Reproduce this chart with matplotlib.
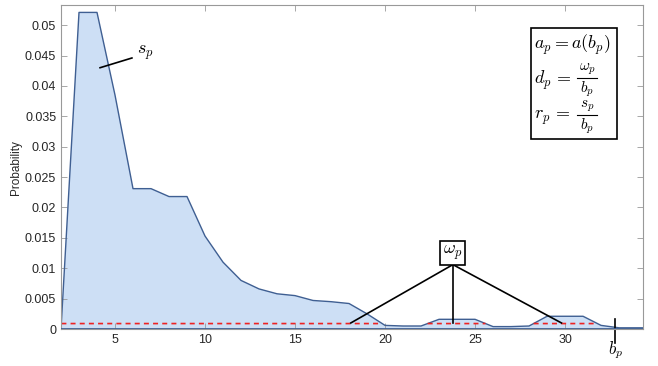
import numpy as np
import matplotlib.pyplot as plt
from matplotlib.patches import Rectangle

plt.rcParams['mathtext.fontset'] = 'cm'
plt.rcParams['font.family'] = ['Liberation Sans', 'DejaVu Sans']

# length distribution
lengths = np.arange(2, 36)
prob = [0.0, 0.0521, 0.0521, 0.0385, 0.0231, 0.0231, 0.0218, 0.0218, 0.0153,
        0.0110, 0.0080, 0.0066, 0.0058, 0.0055, 0.0047, 0.0045, 0.0042, 0.0025,
        0.0006, 0.0005, 0.0005, 0.0016, 0.0016, 0.0016, 0.0004, 0.0004, 0.0005,
        0.0021, 0.0021, 0.0021, 0.0006, 0.0002, 0.0002, 0.0002]
threshold = 0.0009
b_p = 32.8

fig = plt.figure(figsize=(6.58, 3.66), dpi=100)
ax = fig.add_axes([0.0927, 0.101, 0.8845, 0.885])

ax.fill_between(lengths, 0, prob, facecolor='#cddff5', edgecolor='none')
ax.plot(lengths, prob, color='#3f5f92', lw=1.0)
ax.plot([2, 2], [0, prob[0]], color='#3f5f92', lw=1.0)
ax.axhline(0, color='#3f5f92', lw=2.0, zorder=3)

# red threshold line, only shown where the curve is above it
xf = np.linspace(2, 35, 3000)
yf = np.interp(xf, lengths, prob)
ax.plot(xf, np.where(yf > threshold, threshold, np.nan), color='#ee2222',
        ls=(0, (3, 2.5)), lw=1.2)

ax.set_xlim(2, 34.33)
ax.set_ylim(0, 0.0533)
ax.set_xticks([5, 10, 15, 20, 25, 30])
ax.set_yticks(np.arange(0, 0.0501, 0.005))
ax.set_yticklabels(['0', '0.005', '0.01', '0.015', '0.02', '0.025', '0.03',
                    '0.035', '0.04', '0.045', '0.05'])
ax.tick_params(direction='in', top=True, right=True, labelsize=9,
               length=4, width=0.6, colors='#999999', labelcolor='#262626')
for sp in ax.spines.values():
    sp.set_color('#999999')
    sp.set_linewidth(0.8)
ax.set_ylabel('Probability', fontsize=8.5, color='#262626', labelpad=2)

# s_p annotation
ax.plot([4.17, 5.94], [0.0430, 0.0446], color='black', lw=1.2)
ax.text(6.2, 0.0455, r'$s_p$', fontsize=13, va='center', ha='left')

# omega_p annotation
top_pt = (23.77, 0.0106)
for xe in [18.1, 23.77, 29.8]:
    ax.plot([top_pt[0], xe], [top_pt[1], 0.001], color='black', lw=1.2)
ax.text(23.75, 0.01255, r'$\omega_p$', fontsize=13, ha='center', va='center',
        bbox=dict(boxstyle='square,pad=0.15', facecolor='white', edgecolor='black', lw=1.2))

# b_p marker
ax.plot([b_p, b_p], [0.0017, -0.0023], color='black', lw=1.2, clip_on=False)
ax.text(b_p, -0.0034, r'$b_p$', fontsize=12, ha='center', va='center')

# formulas box (fractions built by hand to keep them compact)
ta = ax.transAxes
ax.add_patch(Rectangle((0.808, 0.586), 0.147, 0.343, transform=ta,
                       facecolor='white', edgecolor='black', lw=1.2, zorder=4))
ax.text(0.813, 0.877, r'$a_p = a(b_p)$', transform=ta, fontsize=13,
        ha='left', va='center', zorder=5)
for lhs, num, ybar in [(r'$d_p\, =$', r'$\omega_p$', 0.775), (r'$r_p\, =$', r'$s_p$', 0.660)]:
    ax.text(0.813, ybar - 0.008, lhs, transform=ta, fontsize=13,
            ha='left', va='center', zorder=5)
    ax.plot([0.887, 0.921], [ybar, ybar], color='black', lw=0.8, transform=ta, zorder=5)
    ax.text(0.904, ybar + 0.027, num, transform=ta, fontsize=11,
            ha='center', va='center', zorder=5)
    ax.text(0.904, ybar - 0.034, r'$b_p$', transform=ta, fontsize=11,
            ha='center', va='center', zorder=5)

fig.savefig('out.png', dpi=100)
